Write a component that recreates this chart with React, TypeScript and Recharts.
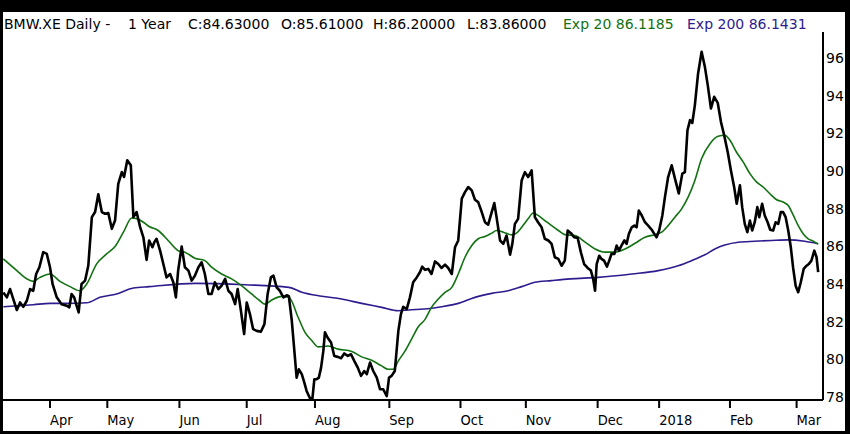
import { LineChart, Line, XAxis, YAxis } from 'recharts'

// trading-day position, closing price
const closes: [number, number][] = [
  [0, 83.55], [1.1, 83.29], [2.1, 83.73], [3.1, 83.2], [4.2, 82.62], [5.2, 83.02], [6.2, 82.79], [7.3, 83.11],
  [8.3, 83.73], [9.3, 83.64], [10.2, 84.53], [11.2, 84.89], [12.4, 85.69], [13.5, 85.6], [14.5, 84.89], [15.3, 84.0],
  [16.6, 83.29], [18.1, 82.93], [19.7, 82.85], [20.5, 82.76], [21.2, 83.47], [22.0, 83.29], [22.6, 82.94], [23.4, 82.49],
  [24.3, 84.0], [25.4, 84.18], [26.4, 84.98], [27.5, 87.55], [28.5, 87.82], [29.5, 88.76], [30.6, 87.82], [31.6, 87.73],
  [32.6, 87.77], [33.7, 86.93], [34.7, 87.37], [35.7, 89.32], [36.8, 89.94], [37.5, 89.68], [38.5, 90.57], [39.6, 90.3],
  [40.4, 87.55], [41.4, 87.82], [42.5, 87.02], [43.5, 86.48], [44.5, 85.28], [45.3, 86.31], [46.3, 85.95], [46.9, 86.22],
  [47.6, 86.4], [48.7, 85.77], [49.7, 85.06], [50.7, 84.35], [51.8, 84.53], [52.8, 84.09], [53.6, 83.29], [54.3, 84.71],
  [55.4, 85.99], [56.4, 84.89], [57.5, 84.71], [58.5, 84.18], [59.5, 84.44], [60.6, 84.89], [61.6, 85.15], [62.6, 84.53],
  [63.7, 83.47], [64.7, 83.47], [65.7, 84.09], [66.8, 83.73], [67.8, 83.91], [68.9, 84.27], [69.9, 83.64], [70.9, 83.47],
  [72.0, 82.93], [72.8, 83.73], [73.8, 82.58], [74.8, 81.34], [75.6, 83.02], [76.6, 82.4], [77.6, 81.6], [78.7, 81.51],
  [80.0, 81.46], [81.1, 81.87], [82.1, 83.47], [83.1, 84.35], [83.9, 84.44], [84.9, 83.82], [85.9, 83.64], [87.0, 83.29],
  [88.0, 83.4], [88.7, 83.35], [89.6, 82.05], [90.4, 80.45], [91.1, 79.03], [91.8, 79.47], [92.7, 79.21], [93.5, 78.76],
  [94.2, 78.32], [95.2, 77.95], [96.0, 77.9], [96.6, 78.94], [97.3, 78.94], [98.0, 79.03], [98.7, 79.56], [99.4, 80.45],
  [99.9, 81.43], [100.7, 81.16], [101.8, 80.89], [102.8, 80.18], [103.9, 80.13], [104.9, 80.06], [105.9, 80.31], [107.0, 80.18],
  [108.0, 80.27], [109.0, 79.92], [110.1, 79.56], [111.1, 79.12], [112.1, 79.38], [112.9, 79.21], [113.9, 79.83], [114.9, 79.38],
  [116.0, 79.03], [117.0, 78.41], [118.0, 78.41], [119.1, 78.05], [119.8, 79.03], [120.6, 79.12], [121.6, 79.38], [122.7, 81.51],
  [123.5, 82.4], [124.2, 82.79], [125.3, 82.67], [126.3, 83.29], [127.3, 84.09], [128.4, 84.35], [129.4, 84.62], [130.1, 84.92],
  [131.0, 84.75], [132.0, 84.8], [133.0, 84.53], [134.1, 85.2], [135.1, 85.06], [136.1, 84.85], [137.2, 85.03], [138.2, 84.85],
  [139.3, 84.53], [140.3, 85.95], [141.3, 86.31], [142.4, 88.53], [143.4, 88.88], [144.4, 89.15], [145.5, 88.97], [146.5, 88.47],
  [147.5, 88.35], [148.6, 87.82], [149.6, 87.28], [150.6, 87.15], [151.7, 87.82], [152.5, 88.3], [153.2, 87.55], [154.3, 86.31],
  [155.3, 86.13], [156.3, 86.57], [157.4, 85.56], [158.1, 86.13], [158.9, 87.19], [159.9, 87.46], [161.0, 89.5], [162.0, 89.94],
  [163.0, 89.68], [164.1, 90.03], [165.1, 87.55], [166.1, 87.28], [167.2, 87.01], [168.2, 86.4], [169.3, 86.31], [170.3, 86.13],
  [171.3, 85.42], [172.4, 85.33], [173.4, 84.97], [174.4, 85.24], [175.3, 86.84], [176.3, 86.7], [177.3, 86.48], [178.4, 86.45],
  [179.4, 85.68], [180.4, 85.06], [181.5, 84.85], [182.5, 84.71], [183.2, 84.27], [183.8, 83.64], [184.3, 85.06], [185.1, 85.5],
  [185.8, 85.33], [186.6, 85.24], [187.5, 84.92], [188.2, 85.24], [188.9, 85.6], [189.8, 85.6], [190.5, 86.04], [191.2, 85.77],
  [192.0, 86.04], [192.9, 86.31], [193.6, 86.13], [194.3, 86.66], [195.2, 87.01], [196.0, 87.1], [196.7, 87.01], [197.4, 87.9],
  [198.3, 87.64], [199.3, 87.28], [200.3, 87.1], [201.4, 86.88], [202.2, 86.66], [202.9, 86.48], [203.7, 86.84], [204.7, 87.64],
  [205.5, 88.61], [206.5, 89.68], [207.6, 90.3], [208.6, 89.61], [209.8, 88.81], [210.9, 89.86], [211.7, 89.94], [212.5, 92.16],
  [213.3, 92.7], [214.0, 92.55], [214.8, 93.5], [215.8, 95.18], [216.9, 96.33], [217.9, 95.54], [218.8, 94.56], [219.8, 93.32],
  [220.8, 93.94], [221.9, 93.62], [222.9, 92.61], [223.9, 91.9], [225.0, 91.01], [226.0, 90.03], [227.0, 89.15], [227.8, 88.26],
  [228.8, 89.24], [229.5, 88.08], [230.3, 87.19], [231.1, 86.75], [231.9, 87.37], [232.6, 86.84], [233.4, 87.28], [234.2, 88.08],
  [234.8, 87.55], [235.7, 88.26], [236.5, 87.64], [237.4, 87.28], [238.2, 86.88], [239.1, 86.84], [239.9, 87.28], [240.7, 87.19],
  [241.5, 87.82], [242.2, 87.82], [243.0, 87.55], [243.8, 86.84], [244.6, 85.95], [245.3, 84.89], [246.1, 83.91], [246.9, 83.56],
  [247.7, 84.09], [248.6, 84.8], [249.5, 84.97], [250.2, 85.06], [251.0, 85.24], [251.9, 85.77], [252.6, 85.42], [253.1, 84.63],
]

// 20-day exponential average
const exp20: [number, number][] = [
  [0, 85.33], [4.2, 84.71], [7.3, 84.27], [9.3, 84.14], [11.4, 84.35], [14.5, 84.53], [17.6, 84.14], [20.7, 83.86],
  [23.8, 83.64], [25.9, 84.0], [29.0, 85.07], [32.1, 85.6], [34.7, 85.99], [37.3, 86.75], [39.9, 87.5], [41.4, 87.47],
  [43.5, 87.28], [45.3, 87.05], [48.1, 86.84], [51.2, 86.31], [54.3, 85.77], [56.4, 85.69], [59.5, 85.37], [62.6, 85.24],
  [64.7, 84.89], [67.8, 84.53], [70.9, 84.27], [74.0, 83.91], [77.1, 83.47], [79.7, 83.11], [81.3, 82.93], [83.4, 83.15],
  [86.5, 83.34], [88.7, 83.3], [91.6, 82.22], [93.7, 81.43], [95.8, 81.0], [97.8, 80.66], [100.9, 80.71], [104.0, 80.54],
  [108.2, 80.42], [111.3, 80.13], [114.4, 79.95], [117.5, 79.65], [119.6, 79.47], [121.1, 79.47], [122.7, 79.92], [124.8, 80.45],
  [126.8, 81.07], [128.9, 81.73], [131.0, 82.12], [133.0, 82.76], [135.1, 83.2], [137.2, 83.56], [139.3, 83.82], [141.3, 84.53],
  [143.4, 85.42], [145.5, 86.04], [147.5, 86.4], [149.6, 86.52], [151.7, 86.7], [153.2, 86.84], [155.3, 86.75], [157.9, 86.61],
  [159.4, 86.7], [161.0, 87.01], [163.0, 87.46], [164.6, 87.77], [166.1, 87.64], [168.2, 87.37], [170.3, 87.1], [172.4, 86.84],
  [174.4, 86.62], [177.6, 86.57], [180.7, 86.22], [183.8, 85.86], [186.9, 85.69], [190.0, 85.69], [193.1, 85.86], [196.2, 86.16],
  [199.3, 86.48], [202.4, 86.62], [204.5, 86.75], [206.5, 87.1], [208.6, 87.55], [210.7, 87.99], [212.7, 88.61], [214.8, 89.5],
  [216.9, 90.66], [219.5, 91.45], [222.0, 91.84], [224.1, 91.9], [225.7, 91.63], [227.7, 91.01], [229.8, 90.48], [231.9, 89.86],
  [234.0, 89.41], [236.0, 89.15], [238.1, 88.79], [240.2, 88.47], [242.2, 88.35], [243.8, 88.17], [245.4, 87.64], [246.9, 87.1],
  [248.5, 86.66], [250.0, 86.4], [251.6, 86.27], [253.1, 86.12],
]

// 200-day exponential average
const exp200: [number, number][] = [
  [0, 82.79], [9.3, 82.9], [14.5, 82.97], [19.7, 82.97], [25.9, 83.0], [30.0, 83.29], [35.2, 83.47], [40.4, 83.79],
  [45.3, 83.86], [59.5, 84.03], [75.1, 83.96], [88.7, 83.82], [92.7, 83.56], [98.9, 83.35], [105.1, 83.2], [111.3, 82.97],
  [117.5, 82.76], [122.7, 82.58], [125.8, 82.62], [132.5, 82.7], [136.1, 82.79], [141.3, 82.97], [146.5, 83.29], [151.7, 83.5],
  [156.8, 83.64], [161.0, 83.86], [165.1, 84.09], [170.3, 84.18], [176.0, 84.27], [184.8, 84.35], [195.2, 84.53], [203.4, 84.71],
  [209.6, 84.97], [213.8, 85.24], [217.9, 85.55], [221.0, 85.86], [224.1, 86.07], [228.3, 86.22], [233.4, 86.27], [238.6, 86.31],
  [243.8, 86.34], [248.9, 86.27], [253.1, 86.14],
]

const monthTicks = [14.5, 32.3, 54.7, 75.6, 96.8, 119.9, 142.0, 162.3, 184.6, 203.7, 225.7, 246.4]
const monthLabels = ['Apr', 'May', 'Jun', 'Jul', 'Aug', 'Sep', 'Oct', 'Nov', 'Dec', '2018', 'Feb', 'Mar']
const priceTicks = [78, 80, 82, 84, 86, 88, 90, 92, 94, 96]

const toRows = (pairs: [number, number][]) => pairs.map(([t, v]) => ({ t, v }))

const GREEN = '#127212'
const PURPLE = '#2e1c8e'

function MonthTick({ x, y, payload }: any) {
  const label = monthLabels[monthTicks.indexOf(payload.value)]
  return (
    <text x={x} y={y + 15} textAnchor="start" fill="#000"
      style={{ fontFamily: "'DejaVu Sans Condensed', 'Liberation Sans Narrow', sans-serif", fontSize: 14.5 }}>
      {label}
    </text>
  )
}

function PriceTick({ x, y, payload }: any) {
  return (
    <text x={x} y={y + 5} textAnchor="start" fill="#000"
      style={{ fontFamily: "'DejaVu Sans', sans-serif", fontSize: 14 }}>
      {payload.value}
    </text>
  )
}

const titleFont = { fontFamily: "'DejaVu Sans', sans-serif", fontSize: 14, position: 'absolute' as const, top: 15, whiteSpace: 'pre' as const, lineHeight: '18px' }

export default function App() {
  return (
    <div style={{ position: 'relative', width: 850, height: 434, background: '#000', overflow: 'hidden' }}>
      <style>{'body{margin:0}'}</style>
      <div style={{ position: 'absolute', left: 3, top: 12, width: 842, height: 419, background: '#fff' }} />
      <div style={{ position: 'absolute', left: 0, top: 0 }}>
        <LineChart width={850} height={434} margin={{ top: 32, right: 0, bottom: 0, left: 3 }}>
          <XAxis
            dataKey="t"
            type="number"
            domain={[-0.1, 254.6]}
            allowDataOverflow
            ticks={monthTicks}
            interval={0}
            height={34}
            axisLine={{ stroke: '#000', strokeWidth: 2 }}
            tickLine={{ stroke: '#000', strokeWidth: 2 }}
            tickSize={8}
            tick={<MonthTick />}
          />
          <YAxis
            orientation="right"
            type="number"
            domain={[77.84, 97.38]}
            allowDataOverflow
            ticks={priceTicks}
            interval={0}
            width={27}
            axisLine={{ stroke: '#000', strokeWidth: 2 }}
            tickLine={false}
            tickSize={0}
            tickMargin={3}
            tick={<PriceTick />}
          />
          <Line data={toRows(exp200)} dataKey="v" type="monotone" stroke={PURPLE} strokeWidth={1.6} dot={false} isAnimationActive={false} />
          <Line data={toRows(exp20)} dataKey="v" type="monotone" stroke={GREEN} strokeWidth={1.6} dot={false} isAnimationActive={false} />
          <Line data={toRows(closes)} dataKey="v" type="linear" stroke="#000" strokeWidth={2.6} strokeLinejoin="round" dot={false} isAnimationActive={false} />
        </LineChart>
      </div>
      <span style={{ ...titleFont, left: 4 }}>BMW.XE Daily -</span>
      <span style={{ ...titleFont, left: 128 }}>1 Year</span>
      <span style={{ ...titleFont, left: 188 }}>C:84.63000</span>
      <span style={{ ...titleFont, left: 281 }}>O:85.61000</span>
      <span style={{ ...titleFont, left: 373 }}>H:86.20000</span>
      <span style={{ ...titleFont, left: 467 }}>L:83.86000</span>
      <span style={{ ...titleFont, left: 563, color: GREEN }}>Exp 20 86.1185</span>
      <span style={{ ...titleFont, left: 687, color: PURPLE }}>Exp 200 86.1431</span>
    </div>
  )
}
